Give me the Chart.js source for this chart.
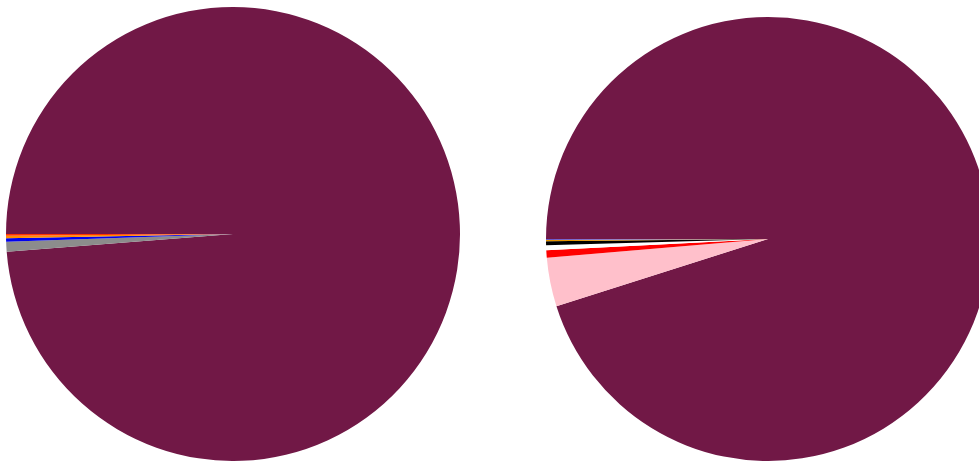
<!DOCTYPE html>
<html>
<head>
<meta charset="utf-8">
<script src="https://cdn.jsdelivr.net/npm/chart.js@4/dist/chart.umd.min.js"></script>
<style>
    html, body { margin: 0; padding: 0; background: #fff; overflow: hidden; }
    body { width: 979px; height: 464px; position: relative; }
    canvas { position: absolute; }
    #pie1 { left: 6px; top: 7px; }
    #pie2 { left: 546px; top: 17px; }
</style>
</head>
<body>
<canvas id="pie1" width="454" height="454"></canvas>
<canvas id="pie2" width="444" height="444"></canvas>
<script>
// left pie (share, percent)
var labels1 = ['A', 'B', 'C', 'D', 'E'];
var values1 = [98.76, 0.70, 0.24, 0.17, 0.13];
var colors1 = ['#711846', '#8c8c8c', '#0000ee', '#ff8c00', '#ff3300'];

// right pie (share, percent)
var labels2 = ['A', 'B', 'C', 'D', 'E', 'F', 'G'];
var values2 = [95.10, 3.55, 0.55, 0.36, 0.28, 0.08, 0.08];
var colors2 = ['#711846', '#ffc0cb', '#ff0000', '#ffffff', '#000000', '#e69500', '#6a5acd'];

function makePie(id, labels, values, colors) {
    var config = {
        type: 'pie',
        data: {
            labels: labels,
            datasets: [{
                data: values,
                backgroundColor: colors,
                borderWidth: 0,
                hoverOffset: 0,
                offset: 0
            }]
        },
        options: {
            responsive: false,
            animation: false,
            events: [],
            rotation: -90,
            layout: { padding: 0 },
            plugins: {
                legend: { display: false },
                tooltip: { enabled: false }
            }
        }
    };
    var ctx = document.getElementById(id).getContext('2d');
    return new Chart(ctx, config);
}

makePie('pie1', labels1, values1, colors1);
makePie('pie2', labels2, values2, colors2);
</script>
</body>
</html>
